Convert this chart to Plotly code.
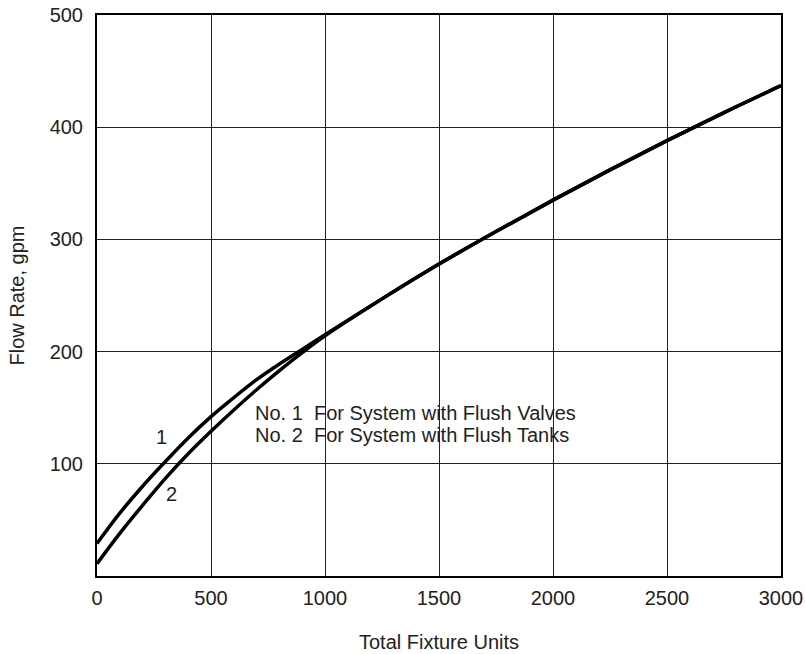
import plotly.graph_objects as go

# Data
fixture_units_1 = [0, 100, 200, 300, 400, 500, 600, 700, 800, 900, 1000, 1250, 1500, 1750, 2000, 2250, 2500, 2750, 3000]
flow_1 = [29, 56, 80, 102, 123, 142, 159, 175, 189, 202, 215, 247, 278, 307, 335, 362, 388, 413, 437]

fixture_units_2 = [0, 100, 200, 300, 400, 500, 600, 700, 800, 900, 1000, 1250, 1500, 1750, 2000, 2250, 2500, 2750, 3000]
flow_2 = [11, 38, 63, 87, 109, 129, 148, 166, 183, 199, 214, 247, 278, 307, 335, 362, 388, 413, 437]

x_ticks = [0, 500, 1000, 1500, 2000, 2500, 3000]
y_ticks = [100, 200, 300, 400, 500]

legend_lines = ["No.\u00a01\u00a0\u00a0For System with Flush Valves",
                "No.\u00a02\u00a0\u00a0For System with Flush Tanks"]

FONT = "Liberation Sans, Arial, Helvetica, sans-serif"
FS = 20

fig = go.Figure()
fig.add_trace(go.Scatter(x=fixture_units_1, y=flow_1, mode="lines",
                         line=dict(color="black", width=3.5, shape="spline", smoothing=1),
                         showlegend=False))
fig.add_trace(go.Scatter(x=fixture_units_2, y=flow_2, mode="lines",
                         line=dict(color="black", width=3.5, shape="spline", smoothing=1),
                         showlegend=False))

fig.update_layout(
    width=805, height=654,
    margin=dict(l=97, r=24, t=15, b=78),
    paper_bgcolor="white", plot_bgcolor="white",
    font=dict(family=FONT, size=FS, color="#222"),
    xaxis=dict(range=[0, 3000], tickvals=x_ticks, showgrid=True, gridcolor="#222", gridwidth=1.3,
               showline=True, linecolor="black", linewidth=2, mirror=True, zeroline=False,
               ticks="", ticklabelstandoff=3, automargin=False, ticklabeloverflow="allow",
               title=dict(text="Total Fixture Units", standoff=27, font=dict(size=FS))),
    yaxis=dict(range=[0, 500], tickvals=y_ticks, showgrid=True, gridcolor="#222", gridwidth=1.3,
               showline=True, linecolor="black", linewidth=2, mirror=True, zeroline=False,
               ticks="", ticklabelstandoff=8, automargin=False, ticklabeloverflow="allow",
               title=dict(text="Flow Rate, gpm", standoff=20, font=dict(size=FS))),
)

fig.add_annotation(x=285, y=124, text="1", showarrow=False, font=dict(size=FS))
fig.add_annotation(x=325, y=73, text="2", showarrow=False, font=dict(size=FS))
fig.add_annotation(x=684, y=145, text=legend_lines[0], showarrow=False, xanchor="left", font=dict(size=FS))
fig.add_annotation(x=684, y=126, text=legend_lines[1], showarrow=False, xanchor="left", font=dict(size=FS))

fig.write_html("out.html", config={"displayModeBar": False},
               post_script="document.body.style.margin='0';")
